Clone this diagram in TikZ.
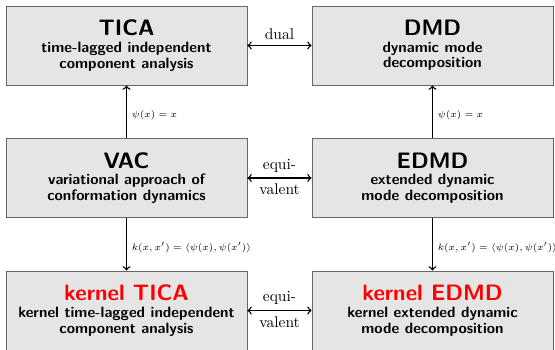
\documentclass[tikz,border=0pt]{standalone}
\usepackage{amsmath}
\usetikzlibrary{arrows}
\tikzset{
  method/.style={draw=black!60, line width=0.6pt, fill=black!10,
    minimum width=155.4pt, minimum height=51pt, inner sep=0pt,
    align=center, font=\sffamily\bfseries\fontsize{9.7}{10.1}\selectfont},
  link/.style={line width=0.9pt, ->, >=to},
  both/.style={line width=0.9pt, <->, >=to},
  maplabel/.style={right, font=\fontsize{6.0}{7.5}\selectfont, inner sep=3pt, yshift=-2pt},
}
\newcommand{\headline}[1]{{\fontsize{14.4}{10.1}\selectfont #1}\\[0.7pt]}
\begin{document}
\begin{tikzpicture}[x=0.645pt, y=-0.645pt]
  \useasboundingbox (0,0) rectangle (555,349);

  % first row
  \node[method] (tica) at (126.5,45.5)
    {\headline{TICA}time-lagged independent\\component analysis};
  \node[method] (dmd) at (432.5,45.5)
    {\headline{DMD}dynamic mode\\decomposition};

  % second row
  \node[method] (vac) at (126.5,178)
    {\headline{VAC}variational approach of\\conformation dynamics};
  \node[method] (edmd) at (432.5,178)
    {\headline{EDMD}extended dynamic\\mode decomposition};

  % third row: kernel methods
  \node[method] (ktica) at (126.5,310.5)
    {\headline{\textcolor{red}{kernel TICA}}kernel time-lagged independent\\component analysis};
  \node[method] (kedmd) at (432.5,310.5)
    {\headline{\textcolor{red}{kernel EDMD}}kernel extended dynamic\\mode decomposition};

  % horizontal relations
  \draw[both] (tica) -- node[above] {dual} (dmd);
  \draw[both] (vac) -- node[above] {equi-} node[below] {valent} (edmd);
  \draw[both] (ktica) -- node[above] {equi-} node[below] {valent} (kedmd);

  % vertical relations
  \draw[link] (vac) -- node[maplabel] {$\psi(x) = x$} (tica);
  \draw[link] (edmd) -- node[maplabel] {$\psi(x) = x$} (dmd);
  \draw[link] (vac) -- node[maplabel] {$k(x,x') = \langle \psi(x), \psi(x') \rangle$} (ktica);
  \draw[link] (edmd) -- node[maplabel] {$k(x,x') = \langle \psi(x), \psi(x') \rangle$} (kedmd);
\end{tikzpicture}
\end{document}
